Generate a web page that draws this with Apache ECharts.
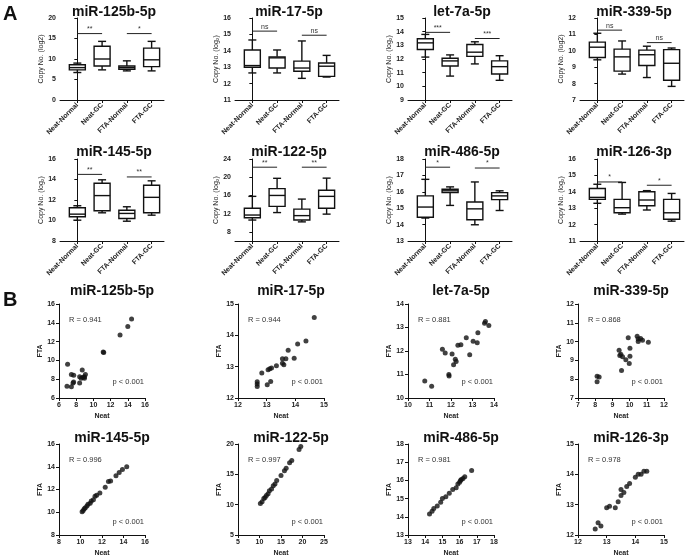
<!DOCTYPE html>
<html><head><meta charset="utf-8">
<script src="https://cdn.jsdelivr.net/npm/echarts@6/dist/echarts.min.js"></script>
<style>html,body{margin:0;padding:0;background:#fff}#c{width:685px;height:558px}</style>
</head><body><div id="c"></div>
<script>
// ---------- DATA ----------
const groups = ['Neat-Normal', 'Neat-GC', 'FTA-Normal', 'FTA-GC'];
const boxTitles = ['miR-125b-5p', 'miR-17-5p', 'let-7a-5p', 'miR-339-5p', 'miR-145-5p', 'miR-122-5p', 'miR-486-5p', 'miR-126-3p'];
const boxYNames = ['Copy No. (log2)', 'Copy No. (log\u2082)', 'Copy No. (log\u2082)', 'Copy No. (log2)', 'Copy No. (log\u2082)', 'Copy No. (log\u2082)', 'Copy No. (log\u2082)', 'Copy No. (log\u2082)'];
// [min, Q1, median, Q3, max] for Neat-Normal, Neat-GC, FTA-Normal, FTA-GC
const box_miR125b = [[6.7, 7.35, 7.9, 8.6, 9.0], [7.35, 8.3, 10.0, 13.1, 14.3], [7.1, 7.5, 7.9, 8.3, 9.55], [7.1, 8.15, 9.8, 12.65, 14.3]];
const box_miR17 = [[12.65, 13.0, 13.1, 14.05, 14.66], [12.65, 12.95, 13.57, 13.63, 14.05], [12.32, 12.75, 12.95, 13.37, 14.6], [12.4, 12.44, 13.06, 13.26, 13.72]];
const box_let7a = [[12.14, 12.69, 13.18, 13.48, 13.8], [10.75, 11.49, 11.86, 12.06, 12.3], [11.64, 12.19, 12.5, 13.06, 13.26], [10.44, 10.9, 11.44, 11.86, 12.24]];
const box_miR339 = [[9.45, 9.59, 10.22, 10.53, 11.07], [8.58, 8.76, 9.63, 10.1, 10.6], [8.37, 9.1, 9.76, 10.04, 10.28], [7.83, 8.2, 9.24, 10.07, 10.17]];
const box_miR145 = [[10.03, 10.36, 10.62, 11.25, 11.44], [10.75, 10.95, 12.43, 13.64, 13.97], [9.93, 10.2, 10.69, 11.0, 11.34], [10.52, 10.75, 12.26, 13.44, 13.87]];
const box_miR122 = [[10.6, 11.1, 11.7, 13.2, 15.8], [12.24, 13.6, 16.0, 17.5, 19.76], [10.2, 10.6, 11.57, 13.0, 15.2], [11.9, 13.2, 15.8, 17.15, 19.8]];
const box_miR486 = [[14.4, 14.45, 15.07, 15.75, 16.76], [15.17, 15.95, 16.06, 16.16, 16.3], [13.99, 14.3, 14.96, 15.38, 16.6], [14.86, 15.52, 15.75, 15.95, 16.06]];
const box_miR126 = [[13.3, 13.54, 13.66, 14.2, 14.46], [12.64, 12.72, 13.03, 13.54, 14.57], [12.89, 13.15, 13.5, 14.0, 14.07], [12.21, 12.33, 12.72, 13.54, 13.9]];
const boxData = [box_miR125b, box_miR17, box_let7a, box_miR339, box_miR145, box_miR122, box_miR486, box_miR126];
// significance: [label, level] for Neat pair then FTA pair
const sig_miR125b = [['**', 16.2], ['*', 16.2]];
const sig_miR17 = [['ns', 15.2], ['ns', 14.95]];
const sig_let7a = [['***', 13.95], ['***', 13.5]];
const sig_miR339 = [['ns', 11.26], ['ns', 10.5]];
const sig_miR145 = [['**', 14.5], ['**', 14.25]];
const sig_miR122 = [['**', 22.2], ['**', 22.2]];
const sig_miR486 = [['*', 17.5], ['*', 17.45]];
const sig_miR126 = [['*', 14.6], ['*', 14.4]];
const sigData = [sig_miR125b, sig_miR17, sig_let7a, sig_miR339, sig_miR145, sig_miR122, sig_miR486, sig_miR126];
// y axes
const boxYMin = [0, 11, 9, 7, 8, 6, 13, 11];
const boxYMax = [20, 16, 15, 12, 16, 24, 18, 16];
const boxYTicks = [[0, 5, 10, 15, 20], [11, 12, 13, 14, 15, 16], [9, 10, 11, 12, 13, 14, 15], [7, 8, 9, 10, 11, 12], [8, 10, 12, 14, 16], [8, 12, 16, 20, 24], [13, 14, 15, 16, 17, 18], [11, 12, 13, 14, 15, 16]];

// Scatter: [Neat, FTA]
const scTitles = ['miR-125b-5p', 'miR-17-5p', 'let-7a-5p', 'miR-339-5p', 'miR-145-5p', 'miR-122-5p', 'miR-486-5p', 'miR-126-3p'];
const scR = ['R = 0.941', 'R = 0.944', 'R = 0.881', 'R = 0.868', 'R = 0.996', 'R = 0.997', 'R = 0.981', 'R = 0.978'];
const scP = ['p < 0.001', 'p < 0.001', 'p < 0.001', 'p < 0.001', 'p < 0.001', 'p < 0.001', 'p < 0.001', 'p < 0.001'];
const sc_miR125b = [[7.0, 9.6], [6.93, 7.25], [7.44, 7.2], [7.44, 8.5], [7.71, 8.43], [7.63, 7.6], [7.7, 7.7], [8.4, 8.25], [8.4, 7.6], [8.57, 8.1], [8.7, 8.97], [8.8, 8.2], [8.96, 8.25], [9.07, 8.5], [8.96, 8.1], [11.2, 10.85], [11.14, 10.9], [13.1, 12.7], [14.0, 13.6], [14.44, 14.4]];
const sc_miR17 = [[12.67, 12.52], [12.67, 12.45], [12.67, 12.37], [12.83, 12.8], [13.02, 12.42], [13.05, 12.9], [13.11, 12.93], [13.17, 12.96], [13.14, 12.53], [13.34, 13.03], [13.55, 13.25], [13.55, 13.11], [13.6, 13.06], [13.67, 13.25], [13.75, 13.52], [13.96, 13.27], [14.08, 13.72], [14.37, 13.82], [14.66, 14.57]];
const sc_let7a = [[10.78, 10.72], [11.1, 10.5], [11.6, 12.07], [11.73, 11.91], [12.05, 11.87], [12.12, 11.41], [12.2, 11.65], [12.24, 11.55], [11.9, 11.0], [11.91, 10.94], [12.32, 12.25], [12.46, 12.27], [12.71, 12.56], [12.87, 11.84], [13.03, 12.42], [13.22, 12.35], [13.25, 12.78], [13.56, 13.18], [13.6, 13.26], [13.76, 13.08]];
const sc_miR339 = [[8.11, 8.16], [8.23, 8.12], [8.11, 7.87], [9.39, 9.54], [9.49, 9.33], [9.43, 9.26], [9.59, 9.2], [9.53, 8.46], [9.78, 9.03], [9.92, 10.2], [9.98, 8.84], [10.02, 9.65], [10.02, 9.22], [10.44, 10.28], [10.5, 10.14], [10.5, 10.0], [10.64, 10.16], [10.75, 10.07], [11.09, 9.96]];
const sc_miR145 = [[10.15, 10.05], [10.25, 10.15], [10.35, 10.3], [10.45, 10.4], [10.6, 10.55], [10.7, 10.7], [10.9, 10.8], [11.0, 11.0], [11.2, 11.1], [11.35, 11.4], [11.5, 11.5], [11.8, 11.7], [12.3, 12.2], [12.6, 12.7], [12.8, 12.75], [13.3, 13.2], [13.6, 13.5], [13.9, 13.75], [14.3, 14.0]];
const sc_miR122 = [[10.2, 10.2], [10.6, 10.5], [11.0, 11.0], [11.3, 11.2], [11.6, 11.5], [12.0, 11.8], [12.3, 12.3], [12.8, 12.6], [13.2, 13.1], [13.6, 13.4], [14.0, 14.0], [15.0, 14.8], [15.8, 15.6], [16.2, 16.0], [17.0, 16.9], [17.5, 17.3], [19.2, 19.1], [19.6, 19.6]];
const sc_miR486 = [[14.25, 14.15], [14.4, 14.3], [14.5, 14.45], [14.7, 14.6], [14.9, 14.8], [15.0, 15.0], [15.2, 15.1], [15.4, 15.3], [15.6, 15.5], [15.8, 15.6], [15.9, 15.8], [16.0, 15.9], [16.05, 16.0], [16.1, 16.05], [16.2, 16.1], [16.3, 16.2], [16.7, 16.55]];
const sc_miR126 = [[12.6, 12.2], [12.7, 12.4], [12.8, 12.3], [13.0, 12.9], [13.1, 12.95], [13.3, 12.9], [13.4, 13.1], [13.5, 13.5], [13.5, 13.3], [13.6, 13.4], [13.7, 13.6], [13.8, 13.7], [14.0, 13.9], [14.1, 14.0], [14.2, 14.0], [14.3, 14.1], [14.4, 14.1]];
const scData = [sc_miR125b, sc_miR17, sc_let7a, sc_miR339, sc_miR145, sc_miR122, sc_miR486, sc_miR126];
const scXMin = [6, 12, 10, 7, 8, 5, 13, 12];
const scXMax = [16, 15, 14, 12, 16, 25, 18, 15];
const scXStep = [2, 1, 1, 1, 2, 5, 1, 1];
const scYMin = [6, 12, 10, 7, 8, 5, 13, 12];
const scYMax = [16, 15, 14, 12, 16, 20, 18, 15];
const scYStep = [2, 1, 1, 1, 2, 5, 1, 1];

// ---------- LAYOUT ----------
const boxLefts = [60, 235, 408, 580];
const boxTops = [18, 159];
const boxTitleTops = [5, 145];
const boxW = 104, boxH = 82;
const scLefts = [59, 238, 408, 578];
const scTops = [304, 444];
const scTitleTops = [284, 431];
const scW = 86, scH = 94;
const FONT = "'Liberation Sans', Arial, sans-serif";

const grids = [], xAxes = [], yAxes = [], series = [], titles = [], graphics = [];

function boxRender(params, api) {
  const i = api.value(0);
  const v = [api.value(1), api.value(2), api.value(3), api.value(4), api.value(5)];
  const x = api.coord([i, v[0]])[0];
  const ys = v.map(val => api.coord([i, val])[1]);
  const bw = 16, cw = 8;
  const st = {stroke: '#111', lineWidth: 1.4, fill: null};
  return {type: 'group', children: [
    {type: 'line', shape: {x1: x, y1: ys[0], x2: x, y2: ys[1]}, style: st},
    {type: 'line', shape: {x1: x, y1: ys[3], x2: x, y2: ys[4]}, style: st},
    {type: 'line', shape: {x1: x - cw / 2, y1: ys[0], x2: x + cw / 2, y2: ys[0]}, style: st},
    {type: 'line', shape: {x1: x - cw / 2, y1: ys[4], x2: x + cw / 2, y2: ys[4]}, style: st},
    {type: 'rect', shape: {x: x - bw / 2, y: ys[3], width: bw, height: ys[1] - ys[3]}, style: {stroke: '#111', lineWidth: 1.4, fill: '#fff'}},
    {type: 'line', shape: {x1: x - bw / 2, y1: ys[2], x2: x + bw / 2, y2: ys[2]}, style: st}
  ]};
}

function sigRenderFactory(labels) {
  return function (params, api) {
    const a = api.coord([api.value(0), api.value(2)]);
    const b = api.coord([api.value(1), api.value(2)]);
    return {type: 'group', children: [
      {type: 'line', shape: {x1: a[0], y1: a[1], x2: b[0], y2: b[1]}, style: {stroke: '#222', lineWidth: 1}},
      {type: 'text', x: (a[0] + b[0]) / 2, y: a[1] - 1, style: {text: labels[params.dataIndex], fill: '#333', font: '7px ' + FONT, textAlign: 'center', textVerticalAlign: 'bottom'}}
    ]};
  };
}

const axisLineStyle = {show: true, lineStyle: {color: '#111', width: 1}};
const tickStyle = {show: true, length: 3, lineStyle: {color: '#111', width: 1}};
const lblStyle = {fontSize: 7, fontWeight: 'bold', color: '#222', fontFamily: FONT};

// box panels
for (let k = 0; k < 8; k++) {
  const col = k % 4, row = Math.floor(k / 4);
  const gi = grids.length;
  grids.push({left: boxLefts[col], top: boxTops[row], width: boxW, height: boxH});
  xAxes.push({gridIndex: gi, type: 'value', min: -0.7, max: 3.5,
    axisLine: axisLineStyle,
    axisTick: Object.assign({customValues: [0, 1, 2, 3]}, tickStyle),
    axisLabel: Object.assign({customValues: [0, 1, 2, 3], rotate: 45, margin: 4, formatter: v => groups[Math.round(v)]}, lblStyle),
    splitLine: {show: false}});
  yAxes.push({gridIndex: gi, type: 'value', min: boxYMin[k], max: boxYMax[k],
    axisLine: axisLineStyle,
    axisTick: Object.assign({customValues: boxYTicks[k]}, tickStyle),
    axisLabel: Object.assign({customValues: boxYTicks[k], margin: 4}, lblStyle),
    splitLine: {show: false},
    name: boxYNames[k], nameLocation: 'middle', nameGap: 15,
    nameTextStyle: {fontSize: 7, color: '#222', fontFamily: FONT}});
  series.push({type: 'custom', xAxisIndex: gi, yAxisIndex: gi, renderItem: boxRender,
    data: boxData[k].map((d, i) => [i].concat(d)), animation: false, silent: true});
  const sg = sigData[k];
  series.push({type: 'custom', xAxisIndex: gi, yAxisIndex: gi, renderItem: sigRenderFactory(sg.map(s => s[0])),
    data: [[0, 1, sg[0][1]], [2, 3, sg[1][1]]], animation: false, silent: true, clip: false});
  titles.push({text: boxTitles[k], left: boxLefts[col] + boxW / 2 + 2, top: boxTitleTops[row], textAlign: 'center', padding: 0,
    textStyle: {fontSize: 14, fontWeight: 'bold', color: '#111', fontFamily: FONT}});
}

// scatter panels
for (let k = 0; k < 8; k++) {
  const col = k % 4, row = Math.floor(k / 4);
  const gi = grids.length;
  grids.push({left: scLefts[col], top: scTops[row], width: scW, height: scH});
  xAxes.push({gridIndex: gi, type: 'value', min: scXMin[k], max: scXMax[k], interval: scXStep[k],
    axisLine: axisLineStyle, axisTick: tickStyle,
    axisLabel: Object.assign({margin: 4}, lblStyle), splitLine: {show: false},
    name: 'Neat', nameLocation: 'middle', nameGap: 15,
    nameTextStyle: {fontSize: 7, fontWeight: 'bold', color: '#222', fontFamily: FONT}});
  yAxes.push({gridIndex: gi, type: 'value', min: scYMin[k], max: scYMax[k], interval: scYStep[k],
    axisLine: axisLineStyle, axisTick: tickStyle,
    axisLabel: Object.assign({margin: 4}, lblStyle), splitLine: {show: false},
    name: 'FTA', nameLocation: 'middle', nameGap: 15,
    nameTextStyle: {fontSize: 7, fontWeight: 'bold', color: '#222', fontFamily: FONT}});
  series.push({type: 'scatter', xAxisIndex: gi, yAxisIndex: gi, data: scData[k], symbolSize: 5,
    itemStyle: {color: '#111'}, animation: false, silent: true});
  titles.push({text: scTitles[k], left: scLefts[col] + scW / 2 + 10, top: scTitleTops[row], textAlign: 'center', padding: 0,
    textStyle: {fontSize: 14, fontWeight: 'bold', color: '#111', fontFamily: FONT}});
  graphics.push({type: 'text', x: scLefts[col] + 10, y: scTops[row] + 16,
    style: {text: scR[k], font: '7.5px ' + FONT, fill: '#333', textAlign: 'left', textVerticalAlign: 'middle'}});
  graphics.push({type: 'text', x: scLefts[col] + scW - 1, y: scTops[row] + scH - 16,
    style: {text: scP[k], font: '7.5px ' + FONT, fill: '#333', textAlign: 'right', textVerticalAlign: 'middle'}});
}

graphics.push({type: 'text', left: 3, top: 4, style: {text: 'A', font: 'bold 20px ' + FONT, fill: '#111'}});
graphics.push({type: 'text', left: 3, top: 290, style: {text: 'B', font: 'bold 20px ' + FONT, fill: '#111'}});

const chart = echarts.init(document.getElementById('c'), null, {renderer: 'canvas'});
chart.setOption({
  animation: false,
  backgroundColor: '#fff',
  title: titles,
  grid: grids,
  xAxis: xAxes,
  yAxis: yAxes,
  series: series,
  graphic: graphics
});
</script>
</body></html>
